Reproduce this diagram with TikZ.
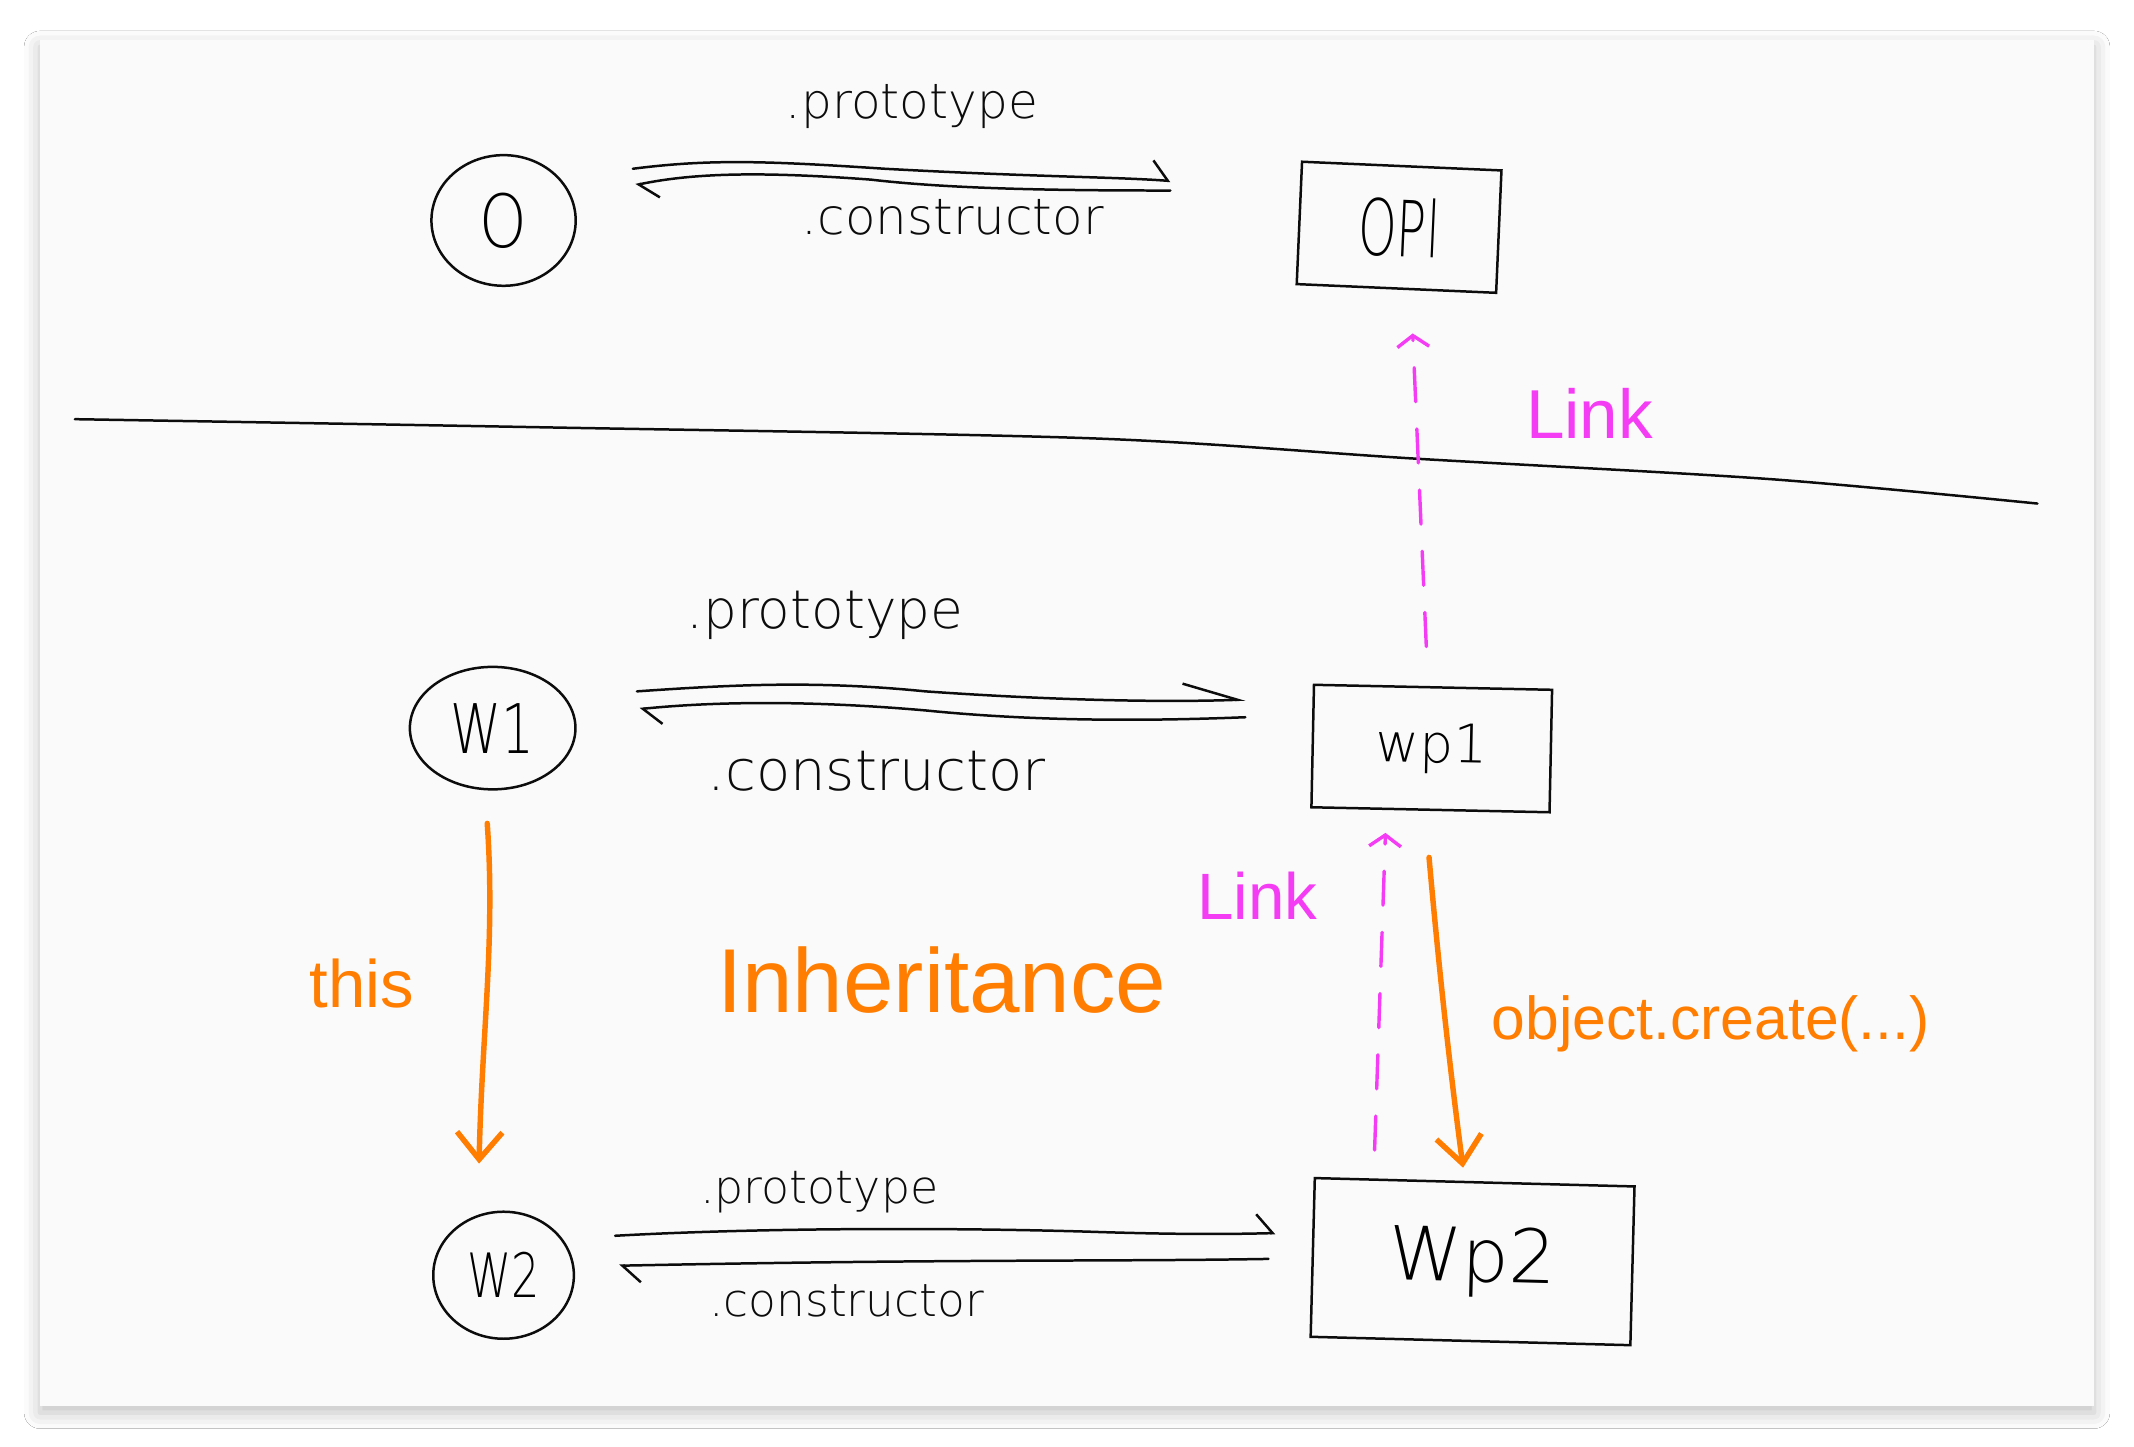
\documentclass[tikz,border=0pt]{standalone}
\usepackage{fontspec}
\setmainfont{Liberation Sans}
\newfontfamily\thin{DejaVu Sans ExtraLight}
\usetikzlibrary{arrows.meta,shapes.geometric,shadows.blur}
\definecolor{cardbg}{RGB}{250,250,250}
\definecolor{ink}{RGB}{12,12,12}
\definecolor{mag}{RGB}{245,60,245}
\definecolor{org}{RGB}{255,125,0}
\newcommand\fitw[2]{\resizebox{#1}{!}{#2}}
\newcommand\fitwh[3]{\resizebox{#1}{#2}{#3}}
\begin{document}
\begin{tikzpicture}[x=0.6pt,y=-0.6pt,
  objc/.style={draw=ink,line width=1.1pt,ellipse,inner sep=0pt},
  objb/.style={draw=ink,line width=1.1pt,rectangle,inner sep=0pt},
  lbl/.style={inner sep=0pt,text=ink},
  olbl/.style={inner sep=0pt,text=org},
  mlbl/.style={inner sep=0pt,text=mag},
  hand/.style={draw=ink,line width=1.1pt,line cap=round,line join=round},
  harpS/.style={hand,-{Straight Barb[left,length=7pt,width=17pt,line width=1.1pt]}},
  harpB/.style={hand,-{Straight Barb[left,length=8pt,width=15pt,line width=1.1pt]}},
  harpL/.style={hand,-{Straight Barb[left,length=24pt,width=16pt,line width=1.1pt]}},
  orarrow/.style={draw=org,line width=2.4pt,line cap=round,-{Straight Barb[length=12pt,width=20pt,line width=2.4pt]}},
  link/.style={draw=mag,line width=1.5pt,line cap=round,dash pattern=on 15pt off 12pt,-{Straight Barb[length=5pt,width=14pt,line width=1.5pt]}}
]
\useasboundingbox (0,0) rectangle (1568,1062.5);
\fill[white] (0,0) rectangle (1568,1062.5);
\fill[cardbg,blur shadow={shadow xshift=0pt,shadow yshift=-3pt,shadow blur radius=7pt,shadow opacity=25}] (29.4,29.4) rectangle (1538.6,1033);

% divider
\draw[hand] plot[smooth,tension=0.5] coordinates {(55,308) (400,314) (800,322) (1040,337) (1300,352) (1497,370)};

% objects
\node[objc,minimum width=63.6pt,minimum height=57.6pt] (O) at (370,162) {\fitwh{21pt}{24pt}{\thin O}};
\node[objb,minimum width=88pt,minimum height=54pt,rotate=-2.5] (OPl) at (1028,167) {\fitwh{36pt}{26pt}{\thin OPl}};
\node[objc,minimum width=73pt,minimum height=54pt] (W1) at (362,535) {\fitwh{37pt}{22pt}{\thin W1}};
\node[objb,minimum width=105pt,minimum height=54pt,rotate=-1.2] (Wp1) at (1052,550) {\fitw{49pt}{\thin wp1}};
\node[objc,minimum width=62pt,minimum height=56pt] (W2) at (370,937) {\fitwh{32pt}{20pt}{\thin W2}};
\node[objb,minimum width=141pt,minimum height=70pt,rotate=-1.5] (Wp2) at (1082,927) {\fitw{74pt}{\thin Wp2}};

% top pair
\coordinate (a1) at (465,124);
\coordinate (a2) at (860,133);
\coordinate (a3) at (860,140);
\coordinate (a4) at (467,136);
\draw[harpS] (a1) .. controls (520,117) and (560,118) .. (650,124) .. controls (760,130) and (820,130) .. (a2);
\draw[harpB] (a3) .. controls (780,140) and (700,139) .. (640,132) .. controls (560,126) and (510,127) .. (a4);
\node[lbl] (tp1) at (670,78) {\fitw{111pt}{\thin .prototype}};
\node[lbl] (tc1) at (700,160) {\fitw{133pt}{\thin .constructor}};

% middle pair
\coordinate (b1) at (468,508);
\coordinate (b2) at (915,514);
\coordinate (b3) at (915,527);
\coordinate (b4) at (470,521);
\draw[harpL] (b1) .. controls (540,503) and (600,500) .. (680,508) .. controls (780,515) and (860,516) .. (b2);
\draw[harpB] (b3) .. controls (840,530) and (760,530) .. (680,522) .. controls (600,515) and (530,515) .. (b4);
\node[lbl] (tp2) at (606,452) {\fitw{122pt}{\thin .prototype}};
\node[lbl] (tc2) at (644,567) {\fitw{149pt}{\thin .constructor}};

% bottom pair
\coordinate (c1) at (452,908);
\coordinate (c2) at (937,906);
\coordinate (c3) at (932,925);
\coordinate (c4) at (455,930);
\draw[harpS] (c1) .. controls (560,902) and (700,902) .. (800,905) .. controls (860,907) and (900,907) .. (c2);
\draw[harpB] (c3) .. controls (820,927) and (700,925) .. (c4);
\node[lbl] (tp3) at (602,876) {\fitw{105pt}{\thin .prototype}};
\node[lbl] (tc3) at (622,956) {\fitw{121pt}{\thin .constructor}};

% orange
\coordinate (t1) at (358,605);
\coordinate (t2) at (352,855);
\draw[orarrow] (t1) .. controls (364,690) and (354,760) .. (t2);
\node[olbl] (this) at (266,723) {\fitw{46pt}{this}};
\coordinate (o1) at (1050,630);
\coordinate (o2) at (1075,858);
\draw[orarrow] (o1) .. controls (1058,720) and (1066,790) .. (o2);
\node[olbl] (oc) at (1257,752) {\fitw{193pt}{object.create(...)}};
\node[olbl] (inh) at (692,720) {\fitw{198pt}{Inheritance}};

% magenta links
\coordinate (l1) at (1048,475);
\coordinate (l2) at (1038,245);
\draw[link] (l1) -- (l2);
\node[mlbl] (lk1) at (1168,304) {\fitw{56pt}{Link}};
\coordinate (m1) at (1010,845);
\coordinate (m2) at (1018,612);
\draw[link] (m1) -- (m2);
\node[mlbl] (lk2) at (924,658) {\fitw{53pt}{Link}};
\end{tikzpicture}
\end{document}
